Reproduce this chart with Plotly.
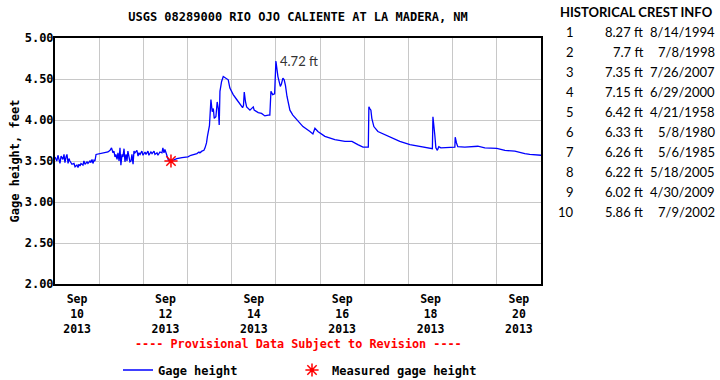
import pandas as pd
import plotly.graph_objects as go

# ---------------- data ----------------
start_time = "2013-09-10 00:00"
hours = [0, 1.0, 1.6, 2.7, 3.3, 4.3, 4.9, 5.4, 6.0, 6.5, 7.1, 7.6, 8.1, 9.2, 10.3, 10.9,
         11.9, 12.5, 13.0, 13.6, 14.1, 15.2, 15.7, 16.3, 17.4, 17.9, 19.0, 19.5, 20.1,
         20.6, 21.2, 21.7, 22.3, 24.4, 26.6, 28.8, 29.9, 30.7, 31.5, 32.0, 32.6, 33.1,
         33.7, 34.2, 34.8, 35.3, 35.8, 36.4, 36.9, 37.5, 38.0, 38.6, 39.1, 39.6, 40.2,
         40.7, 41.3, 41.8, 42.4, 42.9, 43.4, 44.5, 45.1, 45.6, 46.2, 47.2, 47.8, 48.9,
         49.4, 50.5, 51.0, 52.1, 52.7, 53.8, 54.3, 55.4, 55.9, 57.0, 58.1, 58.6, 59.2,
         59.7, 60.3, 60.8, 61.6, 63.0, 64.1, 66.2, 69.0, 72.2, 73.8, 75.5, 77.1, 78.2,
         78.7, 79.8, 80.9, 81.5, 82.3, 82.8, 83.4, 83.9, 84.7, 85.4, 86.0, 86.5, 87.4,
         88.1, 88.7, 89.2, 89.6, 90.5, 91.4, 93.2, 94.1, 95.0, 96.8, 98.7, 100.5, 101.9,
         102.4, 102.8, 103.5, 104.1, 105.9, 107.7, 108.2, 110.4, 112.2, 114.0, 115.8,
         116.7, 117.3, 118.2, 119.3, 120.0, 121.1, 121.6, 122.4, 123.0, 123.8, 124.5,
         125.2, 126.0, 127.6, 129.2, 131.4, 134.7, 138.5, 140.1, 141.2, 142.8, 146.6,
         152.0, 157.5, 161.3, 164.5, 167.3, 170.2, 170.5, 171.0, 171.6, 172.1, 173.2,
         175.4, 179.2, 183.0, 187.3, 192.8, 198.2, 203.6, 205.0, 205.3, 205.8, 206.3,
         206.9, 207.7, 208.5, 209.6, 217.2, 217.4, 218.1, 218.8, 222.6, 229.7, 233.5,
         240.0, 244.4, 249.8, 255.2, 257.9, 264.0]
gage_height = [3.55, 3.50, 3.57, 3.47, 3.56, 3.52, 3.58, 3.48, 3.55, 3.58, 3.47, 3.53,
               3.50, 3.46, 3.47, 3.43, 3.45, 3.42, 3.46, 3.44, 3.47, 3.45, 3.50, 3.46,
               3.49, 3.47, 3.50, 3.48, 3.52, 3.47, 3.51, 3.50, 3.58, 3.59, 3.60, 3.61,
               3.63, 3.66, 3.60, 3.62, 3.55, 3.58, 3.52, 3.60, 3.50, 3.66, 3.45, 3.58,
               3.55, 3.65, 3.49, 3.58, 3.50, 3.62, 3.55, 3.49, 3.50, 3.58, 3.46, 3.62,
               3.60, 3.63, 3.56, 3.60, 3.58, 3.62, 3.57, 3.61, 3.58, 3.62, 3.57, 3.61,
               3.59, 3.62, 3.58, 3.60, 3.57, 3.61, 3.60, 3.66, 3.60, 3.64, 3.60, 3.56,
               3.51, 3.50, 3.51, 3.53, 3.54, 3.55, 3.57, 3.58, 3.59, 3.61, 3.60, 3.62,
               3.63, 3.66, 3.72, 3.80, 3.90, 3.93, 4.25, 4.10, 4.14, 4.02, 4.04, 4.22,
               4.14, 3.94, 4.35, 4.47, 4.53, 4.50, 4.49, 4.39, 4.31, 4.25, 4.20, 4.15,
               4.18, 4.34, 4.22, 4.16, 4.12, 4.16, 4.12, 4.09, 4.08, 4.05, 4.06, 4.06,
               4.35, 4.31, 4.32, 4.72, 4.53, 4.47, 4.41, 4.44, 4.51, 4.49, 4.42, 4.29,
               4.12, 4.06, 4.00, 3.92, 3.86, 3.83, 3.90, 3.86, 3.80, 3.76, 3.74, 3.74,
               3.70, 3.67, 3.67, 4.16, 4.14, 4.12, 4.02, 3.92, 3.86, 3.82, 3.78, 3.74,
               3.70, 3.675, 3.655, 3.65, 4.04, 3.96, 3.82, 3.66, 3.63, 3.675, 3.66, 3.67,
               3.79, 3.72, 3.675, 3.67, 3.68, 3.66, 3.655, 3.63, 3.62, 3.59, 3.58, 3.57]

measured_time = ["2013-09-12 15:00"]
measured_height = [3.50]

tick_days = ["2013-09-10", "2013-09-12", "2013-09-14", "2013-09-16", "2013-09-18", "2013-09-20"]
tick_labels = ["Sep<br>10<br>2013", "Sep<br>12<br>2013", "Sep<br>14<br>2013",
               "Sep<br>16<br>2013", "Sep<br>18<br>2013", "Sep<br>20<br>2013"]

crest_rank = [1, 2, 3, 4, 5, 6, 7, 8, 9, 10]
crest_height = ["8.27", "7.7", "7.35", "7.15", "6.42", "6.33", "6.26", "6.22", "6.02", "5.86"]
crest_date = ["8/14/1994", "7/8/1998", "7/26/2007", "6/29/2000", "4/21/1958",
              "5/8/1980", "5/6/1985", "5/18/2005", "4/30/2009", "7/9/2002"]

# ---------------- figure ----------------
times = pd.Timestamp(start_time) + pd.to_timedelta(hours, unit="h")
series = pd.Series(gage_height, index=times)

MONO = "DejaVu Sans Mono"
W, H = 720, 380
ML, MR, MT, MB = 55, 179, 38, 96
PW, PH = W - ML - MR, H - MT - MB


def px_x(px):
    return (px - ML) / PW


def px_y(py):
    return (H - MB - py) / PH


fig = go.Figure()
fig.add_trace(go.Scatter(x=times, y=gage_height, mode="lines", name="Gage height",
                         line=dict(color="#0000ff", width=1.3), legend="legend"))
fig.add_trace(go.Scatter(x=pd.to_datetime(measured_time), y=measured_height, mode="markers",
                         name="Measured gage height", legend="legend2",
                         marker=dict(symbol="asterisk-open", size=11, color="#ff0000",
                                     line=dict(color="#ff0000", width=1.5))))

peak_t = series.idxmax()
peak_v = series.max()
fig.add_annotation(x=peak_t, y=peak_v, text=f"{peak_v:.2f} ft", showarrow=False,
                   xanchor="left", yanchor="middle", xshift=2,
                   font=dict(family="Lato", size=13, color="#333333"))

day_start = pd.Timestamp("2013-09-10")
day_end = pd.Timestamp("2013-09-21")
midnights = pd.date_range(day_start, day_end, freq="D")
noon_ticks = pd.to_datetime(tick_days) + pd.Timedelta(hours=12)

fig.update_xaxes(range=[day_start, day_end], tickmode="array", tickvals=noon_ticks,
                 ticktext=tick_labels, showgrid=False, ticks="", ticklabelstandoff=3,
                 tickfont=dict(family=MONO, size=11.5, color="black", weight="bold"),
                 minor=dict(tickmode="array", tickvals=midnights, showgrid=True,
                            gridcolor="#c8c8c8", gridwidth=1, ticks=""),
                 showline=True, mirror=True, linecolor="black", linewidth=2,
                 zeroline=False)
fig.update_yaxes(range=[2, 5], dtick=0.5, tick0=2, tickformat=".2f", ticks="",
                 showgrid=True, gridcolor="#c8c8c8", gridwidth=1, ticklabelstandoff=-3,
                 tickfont=dict(family=MONO, size=12, color="black", weight="bold"),
                 title=dict(text="Gage height, feet", standoff=2,
                            font=dict(family=MONO, size=12, color="black", weight="bold")),
                 showline=True, mirror=True, linecolor="black", linewidth=2,
                 zeroline=False)

# Provisional data note
fig.add_annotation(xref="paper", yref="paper", x=0.5, y=px_y(344),
                   text="---- Provisional Data Subject to Revision ----", showarrow=False,
                   xanchor="center", yanchor="middle",
                   font=dict(family=MONO, size=11.8, color="#ff0000", weight="bold"))

# Historical crest table
fig.add_annotation(xref="paper", yref="paper", x=px_x(636), y=px_y(12),
                   text="HISTORICAL CREST INFO", showarrow=False, xanchor="center",
                   yanchor="middle", font=dict(family="Lato", size=13, color="black", weight="bold"))
for i, (r, h, d) in enumerate(zip(crest_rank, crest_height, crest_date)):
    yy = px_y(32.5 + i * 19.9)
    for txt, xx in ((str(r), 576), (f"{h} ft", 645), (d, 717)):
        fig.add_annotation(xref="paper", yref="paper", x=px_x(xx), y=yy, text=txt,
                           showarrow=False, xanchor="right", yanchor="middle",
                           font=dict(family="Lato", size=13, color="black"))

legend_font = dict(family=MONO, size=12, color="black", weight="bold")
fig.update_layout(
    width=W, height=H,
    margin=dict(l=ML, r=MR, t=MT, b=MB, autoexpand=False),
    paper_bgcolor="white", plot_bgcolor="white",
    title=dict(text="USGS 08289000 RIO OJO CALIENTE AT LA MADERA, NM",
               x=0.5, xref="paper", y=1 - 17 / H, yanchor="middle",
               font=dict(family=MONO, size=12, color="black", weight="bold")),
    showlegend=True,
    legend=dict(orientation="h", x=px_x(118), xanchor="left", y=px_y(370), yanchor="middle",
                font=legend_font, bgcolor="rgba(0,0,0,0)"),
    legend2=dict(orientation="h", x=px_x(292), xanchor="left", y=px_y(370), yanchor="middle",
                 font=legend_font, bgcolor="rgba(0,0,0,0)"),
)

fig.write_html("out.html", config={"displayModeBar": False},
               post_script="document.body.style.margin='0';")
